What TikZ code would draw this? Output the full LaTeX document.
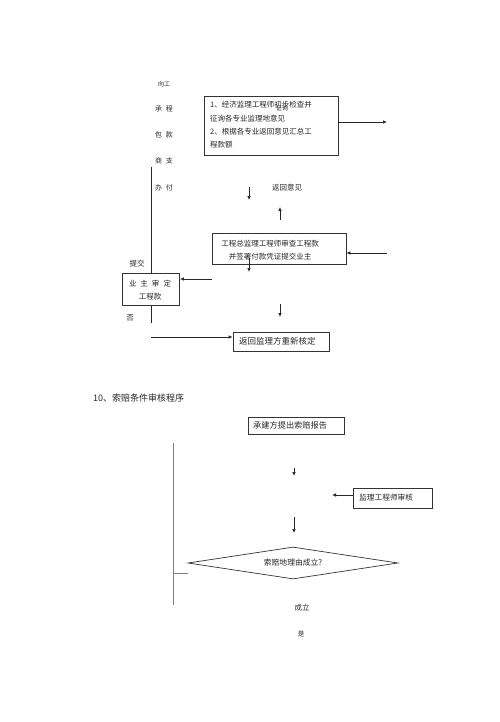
\documentclass[tikz,border=0pt]{standalone}
\usepackage{fontspec}
\newfontfamily\cjk{Noto Sans CJK SC}
\usetikzlibrary{arrows.meta, shapes.geometric}

\begin{document}
\begin{tikzpicture}[x=1pt, y=-1pt,
  every node/.style={font=\cjk\fontsize{7.5}{13.3}\selectfont, text=black!85, inner sep=0pt, align=center},
  box/.style={draw=black!80, line width=0.7pt},
  arr/.style={-{Latex[length=4pt,width=3.5pt]}, line width=0.7pt, black!85}]
  \useasboundingbox (0,0) rectangle (500,722);

  % Payment procedure (top part)
  \node (b1) [box, minimum width=134pt, minimum height=59pt] at (271,125.5) {};
  \node (t1) [anchor=west, align=left] at (210,125) {1、经济监理工程师初步检查并\\征询各专业监理地意见\\2、根据各专业返回意见汇总工\\程款额};
  \node (t1b) [font=\cjk\fontsize{6}{7}\selectfont] at (282,108) {征询};
  \node (l0) [font=\cjk\fontsize{6}{7}\selectfont] at (164,84) {向工};
  \node (l1) [font=\cjk\fontsize{7}{8}\selectfont] at (164,109) {承\hspace{4pt}程};
  \node (l2) [font=\cjk\fontsize{7}{8}\selectfont] at (164,135) {包\hspace{4pt}款};
  \node (l3) [font=\cjk\fontsize{7}{8}\selectfont] at (164,161) {商\hspace{4pt}支};
  \node (l4) [font=\cjk\fontsize{7}{8}\selectfont] at (164,188) {办\hspace{4pt}付};
  \node (fb) at (287,188) {返回意见};
  \node (b2) [box, minimum width=134pt, minimum height=31pt] at (279,248.5) {};
  \node (t2) at (270,250) {工程总监理工程师审查工程款\\并签署付款凭证提交业主};
  \node (yz) [box, minimum width=57pt, minimum height=32pt] at (151,289) {};
  \node (t3) at (150,290) {业\hspace{4pt}主\hspace{4pt}审\hspace{4pt}定\\工程款};
  \node (sub) at (137,264) {提交};
  \node (no) at (130,318) {否};
  \node (ret) [box, minimum width=96pt, minimum height=19pt] at (281,341.5) {};
  \node (t4) [anchor=west, font=\cjk\fontsize{8.5}{10}\selectfont] at (239,341.5) {返回监理方重新核定};

  \coordinate (vtop) at (151,167);
  \coordinate (vbot) at (151,323);
  \coordinate (out1) at (387,122);
  \coordinate (in2) at (387,253);
  \coordinate (d1a) at (249,187);
  \coordinate (d1b) at (249,200);
  \coordinate (u1a) at (280,220);
  \coordinate (u1b) at (280,207);
  \coordinate (d2a) at (249,258);
  \coordinate (d2b) at (249,272);
  \coordinate (l5) at (212,279);
  \coordinate (d3a) at (280,304);
  \coordinate (d3b) at (280,317);
  \coordinate (r1) at (151,337);

  \draw[line width=0.8pt, black!85] (vtop) -- (yz.north);
  \draw[line width=0.8pt, black!85] (yz.south) -- (vbot);
  \draw[arr] (b1.east |- out1) -- (out1);
  \draw[arr] (d1a) -- (d1b);
  \draw[arr] (u1a) -- (u1b);
  \draw[arr] (in2) -- (b2.east |- in2);
  \draw[arr] (d2a) -- (d2b);
  \draw[arr] (l5) -- (yz.east |- l5);
  \draw[arr] (d3a) -- (d3b);
  \draw[arr] (r1) -- (ret.west |- r1);

  % Claim review procedure (bottom part)
  \node (title) [anchor=west, font=\cjk\fontsize{9}{11}\selectfont] at (93,398) {10、索赔条件审核程序};
  \node (c1) [box, minimum width=96pt, minimum height=17pt] at (296,425.5) {};
  \node (tc1) [anchor=west, font=\cjk\fontsize{8.2}{10}\selectfont] at (253,425.5) {承建方提出索赔报告};
  \node (c2) [box, minimum width=79pt, minimum height=20pt] at (392.5,498) {};
  \node (tc2) [anchor=west, font=\cjk\fontsize{7.7}{10}\selectfont] at (359,498) {监理工程师审核};
  \node (c3) [box, diamond, minimum width=210pt, minimum height=32pt] at (293,563) {};
  \node (tc3) [font=\cjk\fontsize{7.8}{10}\selectfont] at (293,563) {索赔地理由成立?};
  \node (yes1) at (302,608) {成立};
  \node (yes2) [font=\cjk\fontsize{6.5}{8}\selectfont] at (301,634) {是};

  \coordinate (g1) at (173,443);
  \coordinate (g2) at (173,605);
  \coordinate (g3) at (173,573);
  \coordinate (g4) at (188,573);
  \coordinate (e1a) at (294,468);
  \coordinate (e1b) at (294,476);
  \coordinate (e2) at (332,495);
  \coordinate (e3a) at (294,517);
  \coordinate (e3b) at (294,533);

  \draw[gray, line width=0.6pt] (g1) -- (g2);
  \draw[gray, line width=0.6pt] (g3) -- (g4);
  \draw[arr] (e1a) -- (e1b);
  \draw[arr] (c2.west |- e2) -- (e2);
  \draw[arr] (e3a) -- (e3b);
\end{tikzpicture}
\end{document}
